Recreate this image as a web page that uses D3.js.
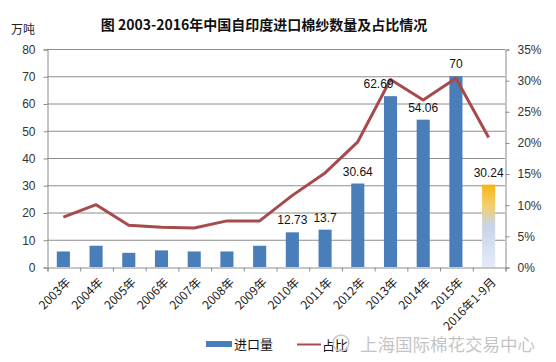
<!DOCTYPE html>
<html>
<head>
<meta charset="utf-8">
<script src="https://cdn.jsdelivr.net/npm/d3@7"></script>
<style>
  body { margin: 0; background: #fff; }
  text { font-family: "Liberation Sans", "Noto Sans CJK SC", sans-serif; }
</style>
</head>
<body>
<div id="chart"></div>
<script>
// data
var years = ["2003年", "2004年", "2005年", "2006年", "2007年", "2008年", "2009年",
  "2010年", "2011年", "2012年", "2013年", "2014年", "2015年", "2016年1-9月"];
var imports = [5.7, 7.8, 5.2, 6.1, 5.7, 5.7, 7.8, 12.73, 13.7, 30.64, 62.69, 54.06, 70, 30.24];
var shares = [0.080, 0.100, 0.067, 0.064, 0.0625, 0.074, 0.074, 0.115, 0.151, 0.201, 0.301, 0.268, 0.303, 0.208];
var labelled = ["2010年", "2011年", "2012年", "2013年", "2014年", "2015年", "2016年1-9月"];
var leftTicks = [0, 10, 20, 30, 40, 50, 60, 70, 80];
var rightTicks = [0, 0.05, 0.10, 0.15, 0.20, 0.25, 0.30, 0.35];

var W = 556, H = 362;
var plot = { left: 47, right: 505, top: 49, bottom: 267 };

var svg = d3.select("#chart").append("svg")
  .attr("width", W).attr("height", H);

var defs = svg.append("defs");
var grad = defs.append("linearGradient")
  .attr("id", "lastBar").attr("x1", 0).attr("y1", 0).attr("x2", 0).attr("y2", 1);
grad.append("stop").attr("offset", "0%").attr("stop-color", "#f6b614");
grad.append("stop").attr("offset", "25%").attr("stop-color", "#f3cf6a");
grad.append("stop").attr("offset", "50%").attr("stop-color", "#c9d4ea");
grad.append("stop").attr("offset", "100%").attr("stop-color", "#e4ebf6");

var x = d3.scaleBand().domain(years).range([plot.left, plot.right]).padding(0);
var step = x.step();
var bw = step * 0.4;
var y = d3.scaleLinear().domain([0, 80]).range([plot.bottom, plot.top]);
var y2 = d3.scaleLinear().domain([0, 0.35]).range([plot.bottom, plot.top]);

// title
svg.append("text")
  .attr("x", 264).attr("y", 30)
  .attr("text-anchor", "middle")
  .style("font-size", "14px").style("font-weight", "bold")
  .style("font-family", "'Noto Sans CJK SC', sans-serif")
  .attr("fill", "#111")
  .text("图 2003-2016年中国自印度进口棉纱数量及占比情况");

svg.append("text")
  .attr("x", 11).attr("y", 34)
  .style("font-size", "12px")
  .style("font-family", "'Noto Sans CJK SC', sans-serif")
  .attr("fill", "#222")
  .text("万吨");

// gridlines
svg.append("g").selectAll("line")
  .data(leftTicks.slice(1))
  .enter().append("line")
  .attr("x1", plot.left).attr("x2", plot.right)
  .attr("y1", function(d) { return y(d) + 0.5; })
  .attr("y2", function(d) { return y(d) + 0.5; })
  .attr("stroke", "#8c8c8c").attr("stroke-width", 1);

// left axis
var yAxis = svg.append("g")
  .attr("transform", "translate(" + (plot.left + 0.5) + ",0.5)")
  .call(d3.axisLeft(y).tickValues(leftTicks).tickSize(4).tickPadding(8));
yAxis.selectAll("path, line").attr("stroke", "#8c8c8c");
yAxis.selectAll("text").style("font-size", "12px").attr("fill", "#333");

// right axis
var yAxis2 = svg.append("g")
  .attr("transform", "translate(" + (plot.right + 0.5) + ",0.5)")
  .call(d3.axisRight(y2).tickValues(rightTicks).tickSize(4).tickPadding(8)
    .tickFormat(d3.format(".0%")));
yAxis2.selectAll("path, line").attr("stroke", "#8c8c8c");
yAxis2.selectAll("text").style("font-size", "12px").attr("fill", "#333");

// bottom axis with boundary ticks
var xb = d3.scaleLinear().domain([0, years.length]).range([plot.left, plot.right]);
var xAxis = svg.append("g")
  .attr("transform", "translate(0.5," + (plot.bottom + 0.5) + ")")
  .call(d3.axisBottom(xb).tickValues(d3.range(years.length + 1))
    .tickSize(4).tickFormat(""));
xAxis.selectAll("path, line").attr("stroke", "#8c8c8c");

// category labels, rotated
svg.append("g").selectAll("text")
  .data(years)
  .enter().append("text")
  .attr("transform", function(d) {
    return "translate(" + (x(d) + step / 2 + 5) + "," + (plot.bottom + 13) + ")rotate(-45)";
  })
  .attr("text-anchor", "end")
  .attr("dy", "0.35em")
  .style("font-size", "12px")
  .style("font-family", "'Noto Sans CJK SC', sans-serif")
  .attr("fill", "#222")
  .text(function(d) { return d; });

// bars
svg.append("g").selectAll("rect")
  .data(years)
  .enter().append("rect")
  .attr("x", function(d) { return x(d) + step / 2 - bw / 2; })
  .attr("y", function(d, i) { return y(imports[i]); })
  .attr("width", bw)
  .attr("height", function(d, i) { return plot.bottom - y(imports[i]); })
  .attr("fill", function(d, i) { return i == years.length - 1 ? "url(#lastBar)" : "#4a7ebb"; });

// share line
var line = d3.line()
  .x(function(d, i) { return x(years[i]) + step / 2; })
  .y(function(d) { return y2(d); });
svg.append("path")
  .datum(shares)
  .attr("d", line)
  .attr("fill", "none")
  .attr("stroke", "#a64a4c")
  .attr("stroke-width", 3)
  .attr("stroke-linejoin", "round");

// value labels
svg.append("g").selectAll("text")
  .data(years.filter(function(d) { return labelled.indexOf(d) >= 0; }))
  .enter().append("text")
  .attr("x", function(d) {
    var cx = x(d) + step / 2;
    return d == "2013年" ? cx - 12 : cx;
  })
  .attr("y", function(d) { return y(imports[years.indexOf(d)]) - 8; })
  .attr("text-anchor", "middle")
  .style("font-size", "12px")
  .attr("fill", "#111")
  .text(function(d) { return imports[years.indexOf(d)]; });

// legend
var lg = svg.append("g");
lg.append("rect").attr("x", 206).attr("y", 341).attr("width", 26).attr("height", 6).attr("fill", "#4a7ebb");
lg.append("text").attr("x", 234).attr("y", 349)
  .style("font-size", "13px").style("font-family", "'Noto Sans CJK SC', sans-serif")
  .attr("fill", "#111").text("进口量");
lg.append("line").attr("x1", 297).attr("x2", 321).attr("y1", 344.5).attr("y2", 344.5)
  .attr("stroke", "#a64a4c").attr("stroke-width", 2);
lg.append("text").attr("x", 322).attr("y", 350)
  .style("font-size", "13px").style("font-family", "'Noto Sans CJK SC', sans-serif")
  .attr("fill", "#111").text("占比");

// watermark
var wm = svg.append("g");
wm.append("circle").attr("cx", 341).attr("cy", 343).attr("r", 8)
  .attr("fill", "none").attr("stroke", "#c8c8c8").attr("stroke-width", 1.5);
wm.append("text").attr("x", 360).attr("y", 351)
  .style("font-size", "17.5px").style("font-family", "'Noto Sans CJK SC', sans-serif")
  .attr("fill", "#b8b8b8").attr("fill-opacity", 0.85)
  .text("上海国际棉花交易中心");
</script>
</body>
</html>
